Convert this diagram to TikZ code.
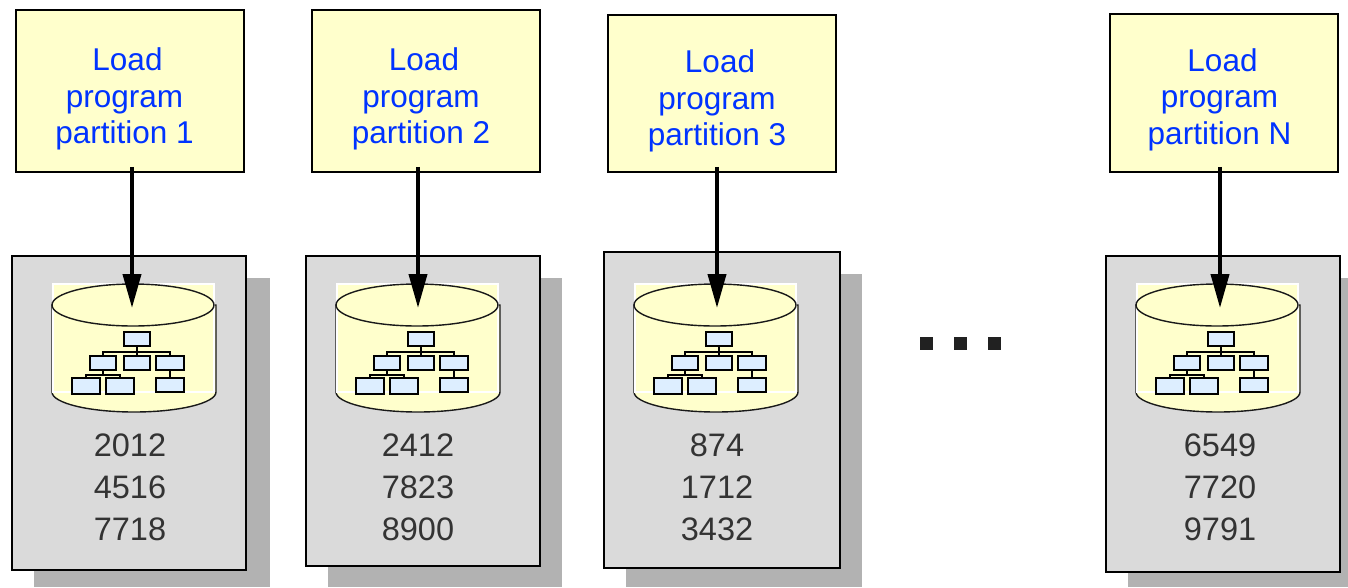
\documentclass[tikz,border=0pt]{standalone}
\usepackage{fontspec}
\setmainfont{Liberation Sans}
\usetikzlibrary{arrows.meta,shapes.geometric}
\definecolor{noteyellow}{HTML}{FFFFCC}
\definecolor{noteblue}{HTML}{0033FF}
\definecolor{panelgray}{HTML}{DADADA}
\definecolor{shadowgray}{HTML}{B2B2B2}
\definecolor{orgblue}{HTML}{DDEEFF}
\definecolor{numgray}{HTML}{333333}

\begin{document}
\begin{tikzpicture}[
    x=1pt, y=-1pt,
    loadbox/.style={
        draw=black,
        line width=1.7pt,
        fill=noteyellow,
        minimum width=228pt,
        inner sep=0pt,
    },
    loadtext/.style={
        text=noteblue,
        font=\fontsize{31.5}{36.5}\selectfont,
        align=center,
        inner sep=0pt,
    },
    panel/.style={
        draw=black,
        line width=1.7pt,
        fill=panelgray,
        inner sep=0pt,
    },
    numbers/.style={
        text=numgray,
        font=\fontsize{32.5}{42}\selectfont,
        align=center,
        inner sep=0pt,
    },
    orgbox/.style={
        draw=black,
        line width=1.6pt,
        fill=orgblue,
        minimum height=14pt,
        inner sep=0pt,
    },
    orgline/.style={draw=black, line width=1.3pt},
    loadarrow/.style={
        draw=black,
        line width=4pt,
        -{Triangle[length=34pt,width=18pt]},
    },
    dot/.style={fill=black!87, minimum size=13pt, inner sep=0pt},
    disk/.pic={
        \path[draw=black!90, line width=1.4pt, fill=noteyellow]
            (-81,21) -- (-81,108) arc[start angle=180, end angle=360, x radius=82pt, y radius=20pt]
            -- (83,21) -- cycle;
        \path[draw=white, line width=1.2pt, fill=noteyellow] (-80,0) rectangle (81,108);
        \node[ellipse, draw=black!90, line width=1.4pt, fill=noteyellow, minimum width=162pt, minimum height=42pt, inner sep=0pt] (-cap) at (0,21) {};
        \node[orgbox, minimum width=26pt] (-top) at (4,55) {};
        \node[orgbox, minimum width=26pt] (-a) at (-30,79) {};
        \node[orgbox, minimum width=26pt] (-b) at (4,79) {};
        \node[orgbox, minimum width=28pt] (-c) at (37,79) {};
        \node[orgbox, minimum width=28pt, minimum height=16pt] (-d) at (-47,102) {};
        \node[orgbox, minimum width=28pt, minimum height=16pt] (-e) at (-13,102) {};
        \node[orgbox, minimum width=28pt] (-f) at (37,101) {};
        \draw[orgline] (-top) -- (-b);
        \draw[orgline] (-a.north) |- (4,68) -| (-c.north);
        \draw[orgline] (-a) -- (-30,91);
        \draw[orgline] (-d.north) |- (-30,91) -| (-e.north);
        \draw[orgline] (-c) -- (-f);
    },
]
\useasboundingbox (0,0) rectangle (1348,587);

\fill[shadowgray] (34,278) rectangle (270,587);
\fill[shadowgray] (328,278) rectangle (562,587);
\fill[shadowgray] (626,274) rectangle (862,587);
\fill[shadowgray] (1128,278) rectangle (1348,587);

\node[panel, minimum width=234pt, minimum height=314pt] (P1) at (129,413) {};
\node[panel, minimum width=234pt, minimum height=310pt] (P2) at (423,411) {};
\node[panel, minimum width=236pt, minimum height=316pt] (P3) at (722,410) {};
\node[panel, minimum width=234pt, minimum height=316pt] (PN) at (1223,414) {};

\pic (D1) at (133,284) {disk};
\pic (D2) at (417,284) {disk};
\pic (D3) at (715,284) {disk};
\pic (DN) at (1217,284) {disk};

\node[numbers] (V1) at (130,487) {2012\\4516\\7718};
\node[numbers] (V2) at (418,487) {2412\\7823\\8900};
\node[numbers] (V3) at (717,487) {874\\1712\\3432};
\node[numbers] (VN) at (1220,487) {6549\\7720\\9791};

\node[loadbox, minimum height=162pt] (L1) at (130,91) {};
\node[loadbox, minimum height=162pt] (L2) at (426,91) {};
\node[loadbox, minimum height=157pt] (L3) at (722,93.5) {};
\node[loadbox, minimum height=158pt] (LN) at (1224,93) {};

\node[loadtext] (T1) at (124.5,99) {\hspace*{6pt}Load\\program\\partition 1};
\node[loadtext] (T2) at (421,99) {\hspace*{6pt}Load\\program\\partition 2};
\node[loadtext] (T3) at (717,101) {\hspace*{6pt}Load\\program\\partition 3};
\node[loadtext] (TN) at (1219.5,99.5) {\hspace*{6pt}Load\\program\\partition N};

\coordinate (A1) at (132,308);
\coordinate (A2) at (418,308);
\coordinate (A3) at (717,308);
\coordinate (AN) at (1220,308);

\draw[loadarrow] ([yshift=6pt]L1.south -| A1) -- (A1);
\draw[loadarrow] ([yshift=6pt]L2.south -| A2) -- (A2);
\draw[loadarrow] ([yshift=6pt]L3.south -| A3) -- (A3);
\draw[loadarrow] ([yshift=6pt]LN.south -| AN) -- (AN);

\node[dot] (dot1) at (926.5,343.5) {};
\node[dot] (dot2) at (960.5,343.5) {};
\node[dot] (dot3) at (994.5,343.5) {};

\end{tikzpicture}
\end{document}
